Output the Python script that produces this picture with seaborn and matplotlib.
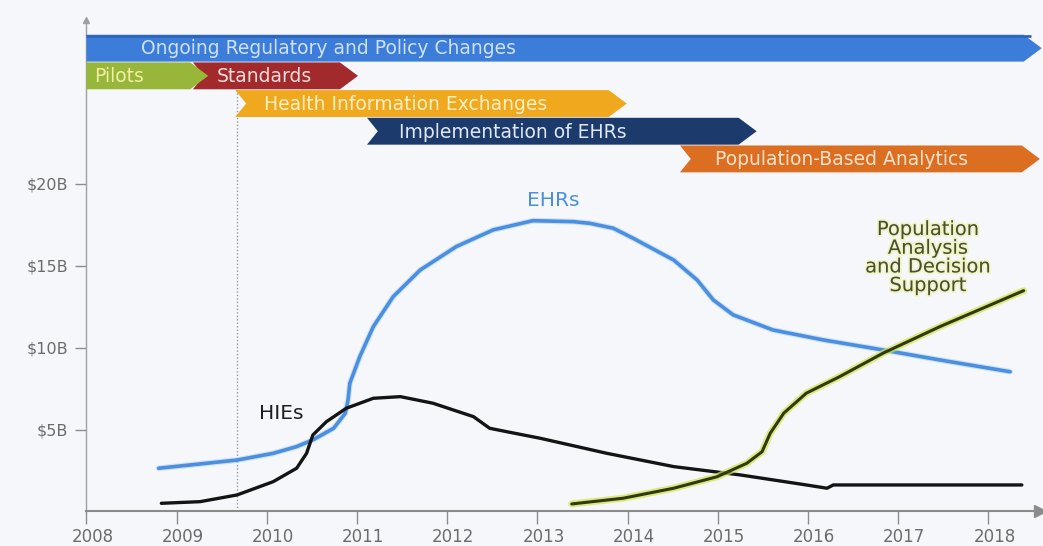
import matplotlib
matplotlib.use("Agg")
import matplotlib.pyplot as plt
import matplotlib.patheffects as pe
import matplotlib.transforms as mtransforms
from matplotlib.patches import Polygon
import seaborn as sns
import pandas as pd

# ---- spending curves (year, $ billions) ----
ehr_years = [2008.80, 2009.15, 2009.67, 2010.07, 2010.33, 2010.51, 2010.74, 2010.87,
             2010.90, 2010.92, 2011.03, 2011.18, 2011.40, 2011.70, 2012.10, 2012.51,
             2012.95, 2013.40, 2013.58, 2013.84, 2014.06, 2014.51, 2014.77, 2014.95,
             2015.17, 2015.61, 2016.17, 2016.83, 2017.46, 2018.24]
ehr_values = [2.64, 2.84, 3.14, 3.55, 3.96, 4.37, 5.08, 6.00,
              6.81, 7.83, 9.45, 11.28, 13.11, 14.74, 16.17, 17.19,
              17.75, 17.69, 17.59, 17.29, 16.68, 15.35, 14.13, 12.91,
              12.00, 11.08, 10.47, 9.86, 9.25, 8.53]

hie_years = [2008.83, 2009.26, 2009.67, 2010.07, 2010.33, 2010.44, 2010.51, 2010.66,
             2010.88, 2011.18, 2011.48, 2011.84, 2012.29, 2012.47, 2012.66, 2013.03,
             2013.77, 2014.51, 2015.25, 2015.98, 2016.21, 2016.28, 2018.37]
hie_values = [0.50, 0.60, 1.01, 1.82, 2.64, 3.55, 4.67, 5.48,
              6.30, 6.91, 7.01, 6.61, 5.79, 5.08, 4.87, 4.47,
              3.55, 2.74, 2.23, 1.62, 1.42, 1.62, 1.62]

pop_years = [2013.38, 2013.95, 2014.51, 2014.99, 2015.32, 2015.49, 2015.58, 2015.73,
             2015.98, 2016.35, 2016.83, 2017.46, 2018.39]
pop_values = [0.46, 0.81, 1.42, 2.12, 2.94, 3.65, 4.77, 6.00,
              7.22, 8.23, 9.66, 11.28, 13.48]

# ---- phase timeline (start year, end year, row) ----
phase_names = ["Ongoing Regulatory and Policy Changes", "Standards", "Pilots",
               "Health Information Exchanges", "Implementation of EHRs",
               "Population-Based Analytics"]
phase_start = [2008.0, 2009.18, 2008.0, 2009.65, 2011.11, 2014.58]
phase_end = [2018.59, 2011.01, 2009.35, 2013.99, 2015.43, 2018.57]
phase_row = [0, 1, 1, 2, 3, 4]
phase_label_x = [2008.61, 2009.44, 2008.08, 2009.97, 2011.46, 2014.97]

x_ticks = list(range(2008, 2019))
y_ticks = [5, 10, 15, 20]
y_tick_labels = ["$5B", "$10B", "$15B", "$20B"]
policy_marker_year = 2009.67

# ---- styling ----
phase_colors = ["#3b7dd8", "#a32a2c", "#97b63a", "#f0a81e", "#1c3b6c", "#dc6e22"]
phase_text_colors = ["#cfe0f6", "#f6dddd", "#f1efa4", "#fff0c4", "#dfe8f4", "#fbe2cc"]
ehr_color = "#4a8fe0"
hie_color = "#141414"
pop_core = "#2d3a12"
pop_glow = "#d6e24c"
axis_grey = "#8c8c8c"
label_grey = "#6c6c6c"
bg = "#f5f7fa"

sns.set_theme(style="white")
plt.rcParams["font.family"] = ["DejaVu Sans"]

fig = plt.figure(figsize=(10.43, 5.46), dpi=100, facecolor=bg)
ax = fig.add_axes([0.0829, 0.0632, 0.9142, 0.9002])
ax.set_facecolor(bg)

ax.set_xlim(2008, 2018.571)
ax.set_ylim(0, 30)

# policy change marker
ax.plot([policy_marker_year, policy_marker_year], [0, 25.7], color="#9a9a9a",
        lw=1, ls=(0, (1, 1.5)), zorder=1)

# curves
ehr_df = pd.DataFrame({"year": ehr_years, "value": ehr_values})
hie_df = pd.DataFrame({"year": hie_years, "value": hie_values})
pop_df = pd.DataFrame({"year": pop_years, "value": pop_values})

line_kw = dict(sort=False, estimator=None, solid_joinstyle="round",
               solid_capstyle="round")
sns.lineplot(data=ehr_df, x="year", y="value", ax=ax, color=ehr_color, lw=2.6,
             zorder=3, **line_kw,
             path_effects=[pe.Stroke(linewidth=4.2, foreground="#a9cdf5", alpha=0.5),
                           pe.Normal()])
sns.lineplot(data=hie_df, x="year", y="value", ax=ax, color=hie_color, lw=2.4,
             zorder=4, **line_kw)
sns.lineplot(data=pop_df, x="year", y="value", ax=ax, color=pop_core, lw=2.2,
             zorder=5, **line_kw,
             path_effects=[pe.Stroke(linewidth=5, foreground=pop_glow, alpha=0.7),
                           pe.Normal()])

# phase banners
row_top0 = 29.1
row_step = 1.69
row_h = 1.64
tip = 0.2
notch = 0.12
for i, name in enumerate(phase_names):
    top = row_top0 - phase_row[i] * row_step
    bot = top - row_h
    mid = (top + bot) / 2
    x0, x1 = phase_start[i], phase_end[i]
    pts = [(x0, top), (x1 - tip, top), (x1, mid), (x1 - tip, bot), (x0, bot)]
    if x0 > 2008.01:
        pts.append((x0 + notch, mid))
    ax.add_patch(Polygon(pts, closed=True, facecolor=phase_colors[i],
                         edgecolor="none", clip_on=False, zorder=6 + i * 0.1))
    ax.text(phase_label_x[i], mid - 0.05, name, color=phase_text_colors[i],
            fontsize=13.5, ha="left", va="center", zorder=7)

# darker rim along the top of the policy banner
ax.plot([2008, phase_end[0] - 0.12], [row_top0 - 0.06, row_top0 - 0.06],
        color="#2f66bd", lw=2, solid_capstyle="butt", clip_on=False, zorder=6.5)

# curve labels
ax.text(2013.17, 19.0, "EHRs", color=ehr_color, fontsize=14.5, ha="center",
        va="center", zorder=6)
ax.text(2010.16, 6.0, "HIEs", color="#1e1e1e", fontsize=14.5, ha="center",
        va="center", zorder=6)
ax.text(2017.33, 15.5, "Population\nAnalysis\nand Decision\nSupport",
        color="#4a4f36", fontsize=14, ha="center", va="center",
        linespacing=0.98, zorder=6,
        path_effects=[pe.withStroke(linewidth=2.5, foreground="#eef29a", alpha=0.6)])

# axes
ax.set_xticks(x_ticks)
ax.set_xticklabels([str(y) for y in x_ticks])
ax.set_yticks(y_ticks)
ax.set_yticklabels(y_tick_labels)
ax.set_xlabel("")
ax.set_ylabel("")
ax.tick_params(axis="x", direction="out", length=9, width=1, color=axis_grey,
               labelcolor=label_grey, labelsize=12, pad=3, bottom=True)
ax.tick_params(axis="y", direction="out", length=8, width=1, color=axis_grey,
               labelcolor=label_grey, labelsize=11.5, pad=5, left=True)
shift = mtransforms.ScaledTranslation(0.06, 0, fig.dpi_scale_trans)
for lab in ax.get_xticklabels():
    lab.set_transform(lab.get_transform() + shift)
for s in ["top", "right"]:
    ax.spines[s].set_visible(False)
ax.spines["left"].set_color("#a0a0a0")
ax.spines["left"].set_linewidth(1)
ax.spines["bottom"].set_color(axis_grey)
ax.spines["bottom"].set_linewidth(1.5)
ax.grid(False)

# axis arrowheads
ax.plot([2018.571], [0], marker=">", color=axis_grey, markersize=9,
        clip_on=False, zorder=8)
ax.plot([2008], [30], marker="^", color="#a0a0a0", markersize=5,
        clip_on=False, zorder=8)

fig.savefig("out.png", dpi=100, facecolor=bg)
